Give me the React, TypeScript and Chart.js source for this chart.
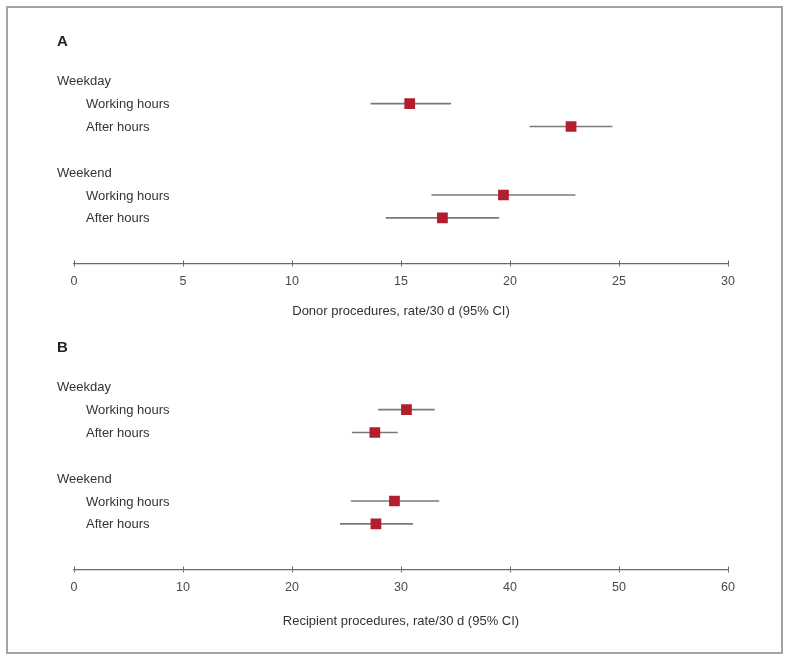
import React, { useEffect, useRef } from 'react';
import { Chart, registerables } from 'chart.js';
Chart.register(...registerables);

const groups = ['Weekday', 'Weekend'];
const periods = ['Working hours', 'After hours'];

const donorRate = [15.4, 22.8, 19.7, 16.9];
const donorLower = [13.6, 20.9, 16.4, 14.3];
const donorUpper = [17.3, 24.7, 23.0, 19.5];

const recipientRate = [30.5, 27.6, 29.4, 27.7];
const recipientLower = [27.9, 25.5, 25.4, 24.4];
const recipientUpper = [33.1, 29.7, 33.5, 31.1];

const donorTicks = [0, 5, 10, 15, 20, 25, 30];
const recipientTicks = [0, 10, 20, 30, 40, 50, 60];

const FONT = '"Liberation Sans", Arial, Helvetica, sans-serif';

type Row = { text: string; header: boolean; index: number };

function buildRows(): Row[] {
  const rows: Row[] = [];
  let idx = 0;
  groups.forEach((g) => {
    rows.push({ text: g, header: true, index: idx++ });
    periods.forEach((p) => rows.push({ text: p, header: false, index: idx++ }));
    idx++; // blank spacer row
  });
  return rows;
}

function itemRow(k: number) {
  const gi = Math.floor(k / periods.length);
  const pi = k % periods.length;
  return gi * (periods.length + 2) + 1 + pi;
}

type PanelProps = {
  letter: string;
  title: string;
  rate: number[];
  lower: number[];
  upper: number[];
  ticks: number[];
  titlePad: number;
  top: number;
};

function ForestPanel({ letter, title, rate, lower, upper, ticks, titlePad, top }: PanelProps) {
  const ref = useRef<HTMLCanvasElement>(null);
  useEffect(() => {
    if (!ref.current) return;
    const rows = buildRows();
    const ciSets = rate.map((_, k) => ({
      data: [
        { x: lower[k], y: itemRow(k) },
        { x: upper[k], y: itemRow(k) },
      ],
      showLine: true,
      borderColor: '#7a7a7a',
      borderWidth: 1.7,
      pointRadius: 0,
      order: 2,
    }));
    const pointSet = {
      data: rate.map((v, k) => ({ x: v, y: itemRow(k) })),
      pointStyle: 'rect',
      pointRadius: 7.6,
      backgroundColor: '#B21E2E',
      borderColor: '#B21E2E',
      borderWidth: 0,
      order: 1,
    };
    const labelPlugin = {
      id: 'forestLabels',
      afterDraw(chart: any) {
        const { ctx, scales } = chart;
        const x = scales.x;
        const y = scales.y;
        ctx.save();
        ctx.textBaseline = 'middle';
        ctx.textAlign = 'left';
        ctx.fillStyle = '#222';
        ctx.font = `bold 15px ${FONT}`;
        ctx.fillText(letter, 57, 21.5);
        ctx.fillStyle = '#333';
        ctx.font = `13px ${FONT}`;
        rows.forEach((r) => {
          ctx.fillText(r.text, r.header ? 57 : 86, y.getPixelForValue(r.index) + 1);
        });
        ctx.strokeStyle = '#666';
        ctx.lineWidth = 1;
        x.ticks.forEach((t: any) => {
          const px = Math.round(x.getPixelForValue(t.value)) + 0.5;
          ctx.beginPath();
          ctx.moveTo(px, x.top - 3);
          ctx.lineTo(px, x.top);
          ctx.stroke();
        });
        ctx.restore();
      },
    };
    const chart = new Chart(ref.current, {
      type: 'scatter',
      data: { datasets: [pointSet, ...ciSets] as any },
      options: {
        animation: false,
        responsive: false,
        layout: { padding: { left: 74, right: 62, top: 38, bottom: 0 } },
        plugins: { legend: { display: false }, tooltip: { enabled: false } },
        scales: {
          x: {
            type: 'linear',
            min: ticks[0],
            max: ticks[ticks.length - 1],
            afterBuildTicks: (s: any) => {
              s.ticks = ticks.map((v) => ({ value: v }));
            },
            ticks: {
              font: { family: FONT, size: 12.5 },
              color: '#4a4a4a',
              padding: 7.5,
              autoSkip: false,
              maxRotation: 0,
            },
            grid: { drawOnChartArea: false, drawTicks: true, tickLength: 3, color: '#666', lineWidth: 1 },
            border: { display: true, color: '#6a6a6a', width: 1.3 },
            title: {
              display: true,
              text: title,
              font: { family: FONT, size: 13 },
              color: '#333',
              padding: { top: 0, bottom: titlePad },
            },
            afterFit: (s: any) => {
              s.height = 62.5;
            },
          },
          y: { type: 'linear', reverse: true, min: -1, max: 8, display: false },
        },
      } as any,
      plugins: [labelPlugin],
    });
    return () => chart.destroy();
  }, []);
  return (
    <canvas
      ref={ref}
      width={790}
      height={306}
      style={{ position: 'absolute', left: 0, top, width: 790, height: 306 }}
    />
  );
}

export default function App() {
  return (
    <div style={{ position: 'absolute', left: 0, top: 0, width: 790, height: 661, background: '#fff' }}>
      <div
        style={{
          position: 'absolute',
          left: 6,
          top: 6,
          width: 777,
          height: 648,
          border: '2px solid #a3a3a3',
          boxSizing: 'border-box',
        }}
      />
      <ForestPanel
        letter="A"
        title="Donor procedures, rate/30 d (95% CI)"
        rate={donorRate}
        lower={donorLower}
        upper={donorUpper}
        ticks={donorTicks}
        titlePad={6.5}
        top={20}
      />
      <ForestPanel
        letter="B"
        title="Recipient procedures, rate/30 d (95% CI)"
        rate={recipientRate}
        lower={recipientLower}
        upper={recipientUpper}
        ticks={recipientTicks}
        titlePad={2.5}
        top={326}
      />
    </div>
  );
}
